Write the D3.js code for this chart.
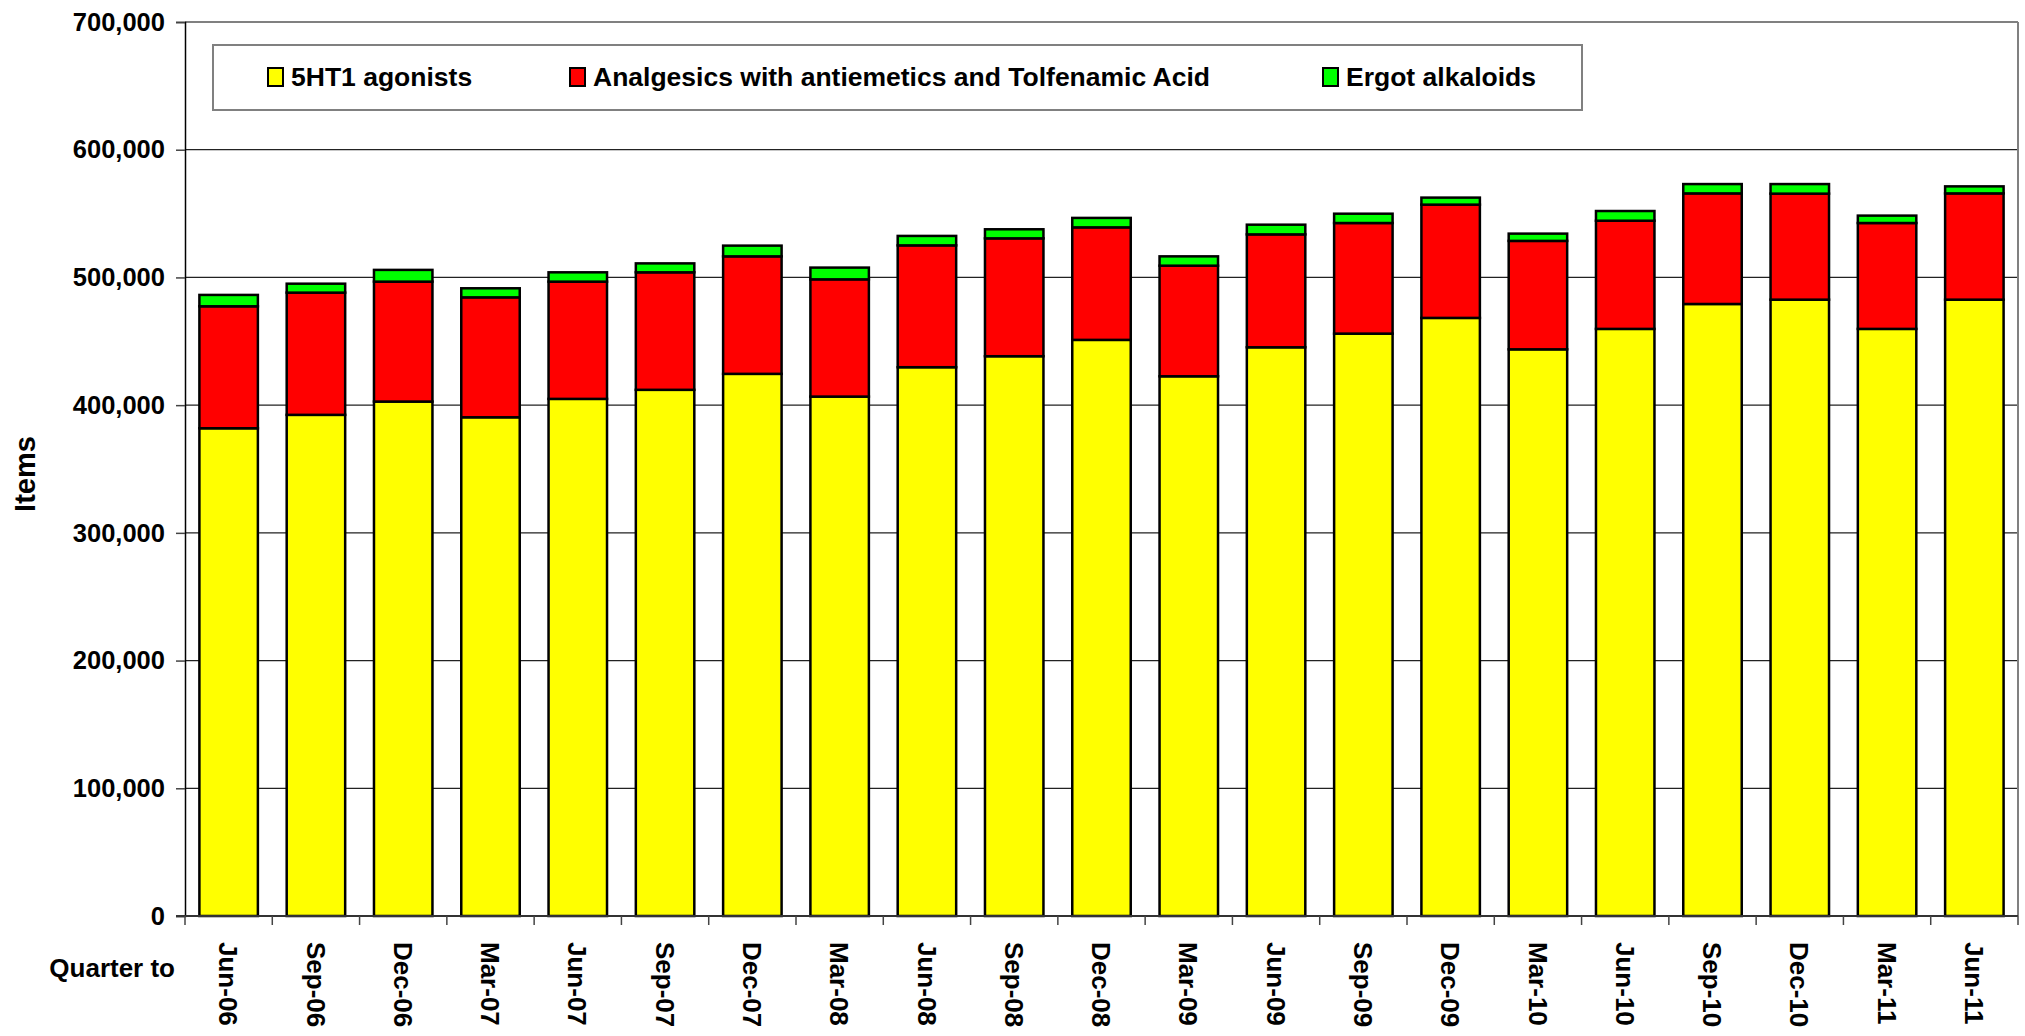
<!DOCTYPE html>
<html>
<head>
<meta charset="utf-8">
<script src="https://cdn.jsdelivr.net/npm/d3@7"></script>
<style>
  body { margin: 0; background: #fff; }
  text { font-family: "Liberation Sans", Arial, sans-serif; font-weight: bold; fill: #000; }
</style>
</head>
<body>
<script>
/* Data */

const quarters = ["Jun-06", "Sep-06", "Dec-06", "Mar-07", "Jun-07", "Sep-07", "Dec-07",
                  "Mar-08", "Jun-08", "Sep-08", "Dec-08", "Mar-09", "Jun-09", "Sep-09",
                  "Dec-09", "Mar-10", "Jun-10", "Sep-10", "Dec-10", "Mar-11", "Jun-11"];

const agonists   = [381900, 392400, 402800, 390500, 404900, 412000, 424500,
                    406700, 429700, 438300, 451100, 422600, 445300, 456000,
                    468300, 443700, 459700, 479200, 482600, 459700, 482600];

const analgesics = [95500, 95700, 93900, 93900, 91800, 92000, 92000,
                    91800, 95400, 92300, 88100, 86600, 88400, 86600,
                    88700, 84900, 84700, 86600, 83000, 82900, 83200];

const ergot      = [8900, 7000, 9200, 7100, 7300, 7000, 8400,
                    9200, 7400, 7100, 7400, 7300, 7600, 7300,
                    5500, 5700, 7600, 7300, 7500, 5800, 5500];

const seriesNames = ["5HT1 agonists", "Analgesics with antiemetics and Tolfenamic Acid", "Ergot alkaloids"];
const seriesColors = ["#ffff00", "#ff0000", "#00ff00"];
const yTicks = [0, 100000, 200000, 300000, 400000, 500000, 600000, 700000];

/* Chart size */

const w = 2025,
      h = 1036,
      pLeft = 185,
      pRight = 2018,
      pTop = 22,
      pBottom = 916;

const keys = ["a", "b", "c"];
const rows = quarters.map((q, i) => ({ q: q, a: agonists[i], b: analgesics[i], c: ergot[i] }));
const stacked = d3.stack().keys(keys)(rows);

const x = d3.scaleBand().domain(quarters).range([pLeft, pRight])
            .paddingInner(0.33).paddingOuter(0.165);
const y = d3.scaleLinear().domain([0, 700000]).range([pBottom, pTop]);

const svg = d3.select("body").append("svg")
              .attr("width", w)
              .attr("height", h);

/* Gridlines */

svg.append("g").selectAll("line")
   .data(yTicks.slice(1))
   .enter().append("line")
   .attr("x1", pLeft).attr("x2", pRight)
   .attr("y1", d => y(d)).attr("y2", d => y(d))
   .attr("stroke", d => d === 700000 ? "#808080" : "#222")
   .attr("stroke-width", d => d === 700000 ? 2 : 1.3);

svg.append("line")
   .attr("x1", pRight).attr("x2", pRight)
   .attr("y1", pTop).attr("y2", pBottom)
   .attr("stroke", "#808080").attr("stroke-width", 2);

/* Bars */

svg.append("g").selectAll("g")
   .data(stacked)
   .enter().append("g")
   .attr("fill", (d, i) => seriesColors[i])
   .selectAll("rect")
   .data(d => d)
   .enter().append("rect")
   .attr("x", d => x(d.data.q))
   .attr("y", d => y(d[1]))
   .attr("width", x.bandwidth())
   .attr("height", d => y(d[0]) - y(d[1]))
   .attr("stroke", "#000")
   .attr("stroke-width", 2.5);

/* Y axis */

const yAxis = svg.append("g")
   .attr("transform", "translate(" + pLeft + ",0)")
   .call(d3.axisLeft(y).tickValues(yTicks).tickSize(9).tickPadding(11).tickFormat(d3.format(",")));
yAxis.select(".domain").attr("stroke", "#000").attr("stroke-width", 1.5);
yAxis.selectAll(".tick line").attr("stroke", "#444").attr("stroke-width", 1.5);
yAxis.selectAll("text").style("font-size", "25.5px").style("font-family", "Liberation Sans, Arial, sans-serif").style("font-weight", "bold");

/* X axis */

svg.append("line")
   .attr("x1", pLeft - 9).attr("x2", pRight)
   .attr("y1", pBottom).attr("y2", pBottom)
   .attr("stroke", "#333").attr("stroke-width", 2);

const gap = (x.step() - x.bandwidth()) / 2;
svg.append("g").selectAll("line")
   .data(quarters.concat(["end"]))
   .enter().append("line")
   .attr("x1", d => d === "end" ? pRight : x(d) - gap)
   .attr("x2", d => d === "end" ? pRight : x(d) - gap)
   .attr("y1", pBottom).attr("y2", pBottom + 9)
   .attr("stroke", "#444").attr("stroke-width", 1.5);

svg.append("g").selectAll("text")
   .data(quarters)
   .enter().append("text")
   .attr("transform", d => "translate(" + (x(d) + x.bandwidth() / 2) + "," + 942 + ") rotate(90)")
   .attr("dy", "0.36em")
   .style("font-size", "26px")
   .text(d => d);

svg.append("text")
   .attr("x", 175).attr("y", 977)
   .attr("text-anchor", "end")
   .style("font-size", "26px")
   .text("Quarter to");

svg.append("text")
   .attr("transform", "translate(35,474) rotate(-90)")
   .attr("text-anchor", "middle")
   .style("font-size", "29px")
   .text("Items");

/* Legend */

const legend = svg.append("g").attr("id", "legend");
legend.append("rect")
      .attr("x", 213).attr("y", 45)
      .attr("width", 1369).attr("height", 65)
      .attr("fill", "#fff").attr("stroke", "#808080").attr("stroke-width", 2);

const legendX = [268, 570, 1323];
seriesNames.forEach((name, i) => {
  legend.append("rect")
        .attr("x", legendX[i]).attr("y", 68)
        .attr("width", 15).attr("height", 18)
        .attr("fill", seriesColors[i])
        .attr("stroke", "#000").attr("stroke-width", 2);
  legend.append("text")
        .attr("x", legendX[i] + 23).attr("y", 86)
        .style("font-size", "26.5px")
        .text(name);
});
</script>
</body>
</html>
